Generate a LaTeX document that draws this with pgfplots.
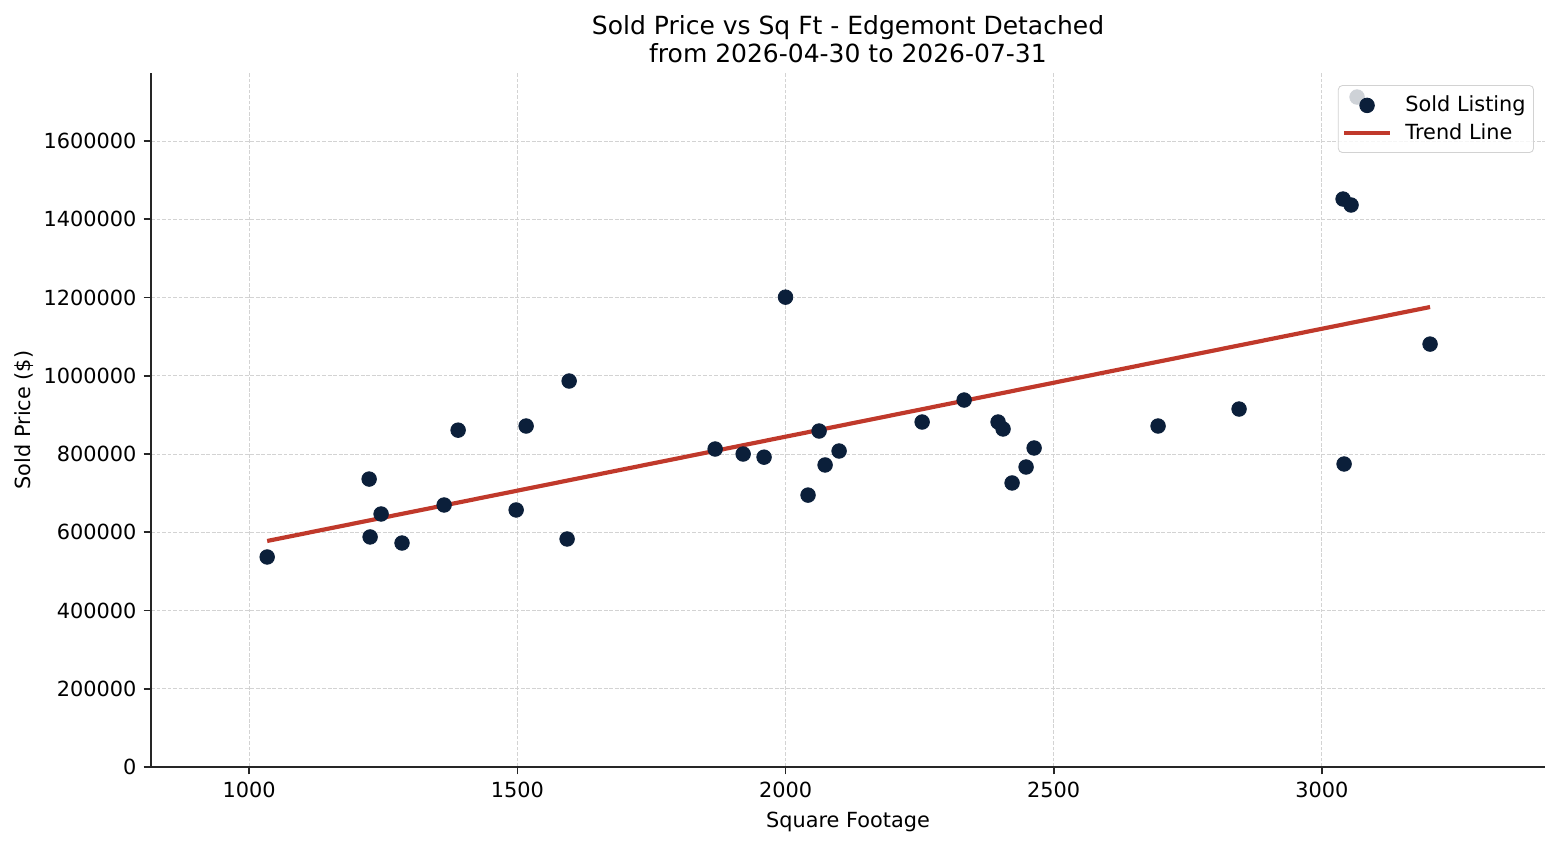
\documentclass[border=0pt]{standalone}
\usepackage{pgfplots}
\pgfplotsset{compat=1.18}
\usepackage{fontspec}
\setmainfont{DejaVu Sans}
\definecolor{dot}{HTML}{0B1F3A}
\definecolor{trend}{HTML}{C0392B}
\definecolor{gridc}{HTML}{D3D3D3}
\pgfplotstableread{
x y
1033.6 536800
1223.7 736000
1225.5 588000
1246.0 646700
1285.0 572500
1363.5 669700
1389.6 861000
1497.8 657000
1516.4 871600
1592.8 582800
1596.6 986600
1868.8 812800
1921.0 800000
1960.0 792000
2000.0 1201000
2042.0 695000
2062.6 858800
2073.8 772000
2099.9 807700
2254.7 881800
2333.0 938000
2396.3 881800
2405.6 864000
2422.4 726000
2448.5 766800
2463.5 815400
2694.6 871600
2845.6 915000
3039.5 1451800
3041.4 774500
3054.4 1436500
3065.6 1712500
3201.7 1081000
}\sold
\begin{document}
\begin{tikzpicture}
\path (-72.48pt,-37.44pt) rectangle (676.32pt,368.16pt);
\begin{axis}[
  set layers,
  at={(0,0)}, anchor=south west, scale only axis,
  width=669.12pt, height=333.12pt,
  xmin=817, xmax=3416, ymin=0, ymax=1774000,
  axis x line*=bottom, axis y line*=left,
  axis line style={-, line width=0.8pt, color=black!85},
  tick align=outside, major tick length=3.5pt,
  every tick/.style={line width=0.8pt, black!85},
  xtick={1000,1500,...,3000},
  ytick={0,200000,400000,600000,800000,1000000,1200000,1400000,1600000},
  scaled ticks=false,
  /pgf/number format/assume math mode=true,
  /pgf/number format/1000 sep={},
  /pgf/number format/fixed,
  tick label style={font=\fontsize{10}{12}\selectfont},
  grid=major,
  major grid style={gridc, line width=0.5pt, dash pattern=on 1.85pt off 0.8pt},
  title={Sold Price vs Sq Ft - Edgemont Detached\\from 2026-04-30 to 2026-07-31},
  title style={at={(0.5,1)}, anchor=south, yshift=-4.8pt, align=center, font=\fontsize{12}{13.4}\selectfont},
  xlabel={Square Footage},
  ylabel={Sold Price (\$)},
  label style={font=\fontsize{10}{12}\selectfont},
  ylabel style={yshift=-2pt},
  legend style={at={(1,1)}, anchor=north east, xshift=-5.3pt, yshift=-5.8pt,
    draw=gray!35, rounded corners=2pt, fill=white, fill opacity=0.8, text opacity=1,
    draw opacity=1, font=\fontsize{10}{12}\selectfont, inner xsep=1.8pt, inner ysep=3pt,
    column sep=4.4pt},
  legend cell align=left,
]
\addplot[only marks, mark=*, mark size=3.5pt, mark options={draw=dot, fill=dot}, on layer=axis background,
  legend image code/.code={\fill[dot, fill opacity=1] (11pt,0pt) circle (3.5pt);}] table[x=x, y=y] {\sold};
\addlegendentry{Sold Listing}
\addplot[trend, line width=2pt,
  legend image code/.code={\draw[trend, line width=2pt, draw opacity=1] (0pt,0pt) -- (22pt,0pt);}] coordinates {(1033.6,577700) (3201.7,1175800)};
\addlegendentry{Trend Line}
\end{axis}
\end{tikzpicture}
\end{document}
